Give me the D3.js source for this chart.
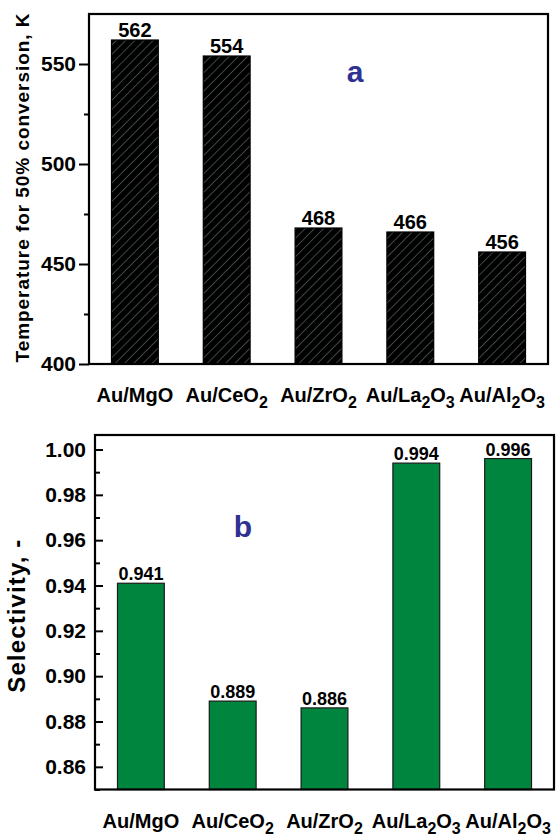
<!DOCTYPE html>
<html>
<head>
<meta charset="utf-8">
<script src="https://cdn.jsdelivr.net/npm/d3@7"></script>
<style>
  html, body { margin: 0; padding: 0; background: #fff; }
  text { font-family: "Liberation Sans", Arial, sans-serif; font-weight: bold; }
</style>
</head>
<body>
<svg id="chart" width="559" height="837"></svg>
<script>
// ---- data ----
const categories = ["Au/MgO", "Au/CeO2", "Au/ZrO2", "Au/La2O3", "Au/Al2O3"];
const temperatureValues = [562, 554, 468, 466, 456];
const selectivityValues = [0.941, 0.889, 0.886, 0.994, 0.996];
const tempTicks = [400, 450, 500, 550];
const tempMinorTicks = [425, 475, 525];
const selTicks = [0.86, 0.88, 0.90, 0.92, 0.94, 0.96, 0.98, 1.00];
const selMinorTicks = [0.85, 0.87, 0.89, 0.91, 0.93, 0.95, 0.97, 0.99];

const svg = d3.select("#chart");

// hatch pattern
const defs = svg.append("defs");
const pat = defs.append("pattern")
  .attr("id", "hatch").attr("patternUnits", "userSpaceOnUse")
  .attr("width", 6.5).attr("height", 6.5)
  .attr("patternTransform", "rotate(45)");
pat.append("rect").attr("width", 6.5).attr("height", 6.5).attr("fill", "#000");
pat.append("line").attr("x1", 0).attr("y1", 0).attr("x2", 0).attr("y2", 6.5)
  .attr("stroke", "#6f7d7b").attr("stroke-width", 1.1);

function labelParts(sel, label, mainSize, subSize, shift) {
  const parts = label.match(/[0-9]+|[^0-9]+/g);
  let lowered = false;
  parts.forEach(p => {
    const isSub = /^[0-9]+$/.test(p);
    let dy = 0;
    if (isSub && !lowered) { dy = shift; lowered = true; }
    else if (!isSub && lowered) { dy = -shift; lowered = false; }
    sel.append("tspan")
      .attr("font-size", isSub ? subSize : mainSize)
      .attr("dy", dy)
      .text(p);
  });
}

function panel(cfg) {
  const g = svg.append("g");
  const x = d3.scaleBand().domain(categories).range([cfg.left, cfg.right])
    .paddingInner(0.49).paddingOuter(0.245);
  const y = d3.scaleLinear().domain(cfg.domain).range([cfg.bottom, cfg.top]);

  // bars
  g.selectAll("rect.bar").data(cfg.values).join("rect")
    .attr("class", "bar")
    .attr("x", (d, i) => x(categories[i]))
    .attr("width", x.bandwidth())
    .attr("y", d => y(d))
    .attr("height", d => y(cfg.domain[0]) - y(d))
    .attr("fill", cfg.fill)
    .attr("stroke", cfg.stroke)
    .attr("stroke-width", 1.2);

  // value labels
  g.selectAll("text.val").data(cfg.values).join("text")
    .attr("class", "val")
    .attr("x", (d, i) => x(categories[i]) + x.bandwidth() / 2)
    .attr("y", d => y(d) - 3)
    .attr("text-anchor", "middle")
    .attr("font-size", cfg.valSize)
    .attr("fill", "#000")
    .text(d => cfg.fmt(d));

  // frame
  g.append("rect")
    .attr("x", cfg.left).attr("y", cfg.top)
    .attr("width", cfg.right - cfg.left).attr("height", cfg.bottom - cfg.top)
    .attr("fill", "none").attr("stroke", "#000").attr("stroke-width", 2.2);

  // y axis
  const ax = d3.axisLeft(y).tickValues(cfg.ticks).tickFormat(cfg.tickFmt)
    .tickSize(cfg.tickLen).tickPadding(cfg.tickPad);
  const axg = g.append("g").attr("transform", `translate(${cfg.left},0)`).call(ax);
  axg.select(".domain").remove();
  axg.selectAll(".tick line").attr("stroke", "#000").attr("stroke-width", 2);
  axg.selectAll(".tick text").attr("font-size", 21).attr("fill", "#000")
    .attr("font-family", '"Liberation Sans", Arial, sans-serif').attr("font-weight", "bold");

  const axm = d3.axisLeft(y).tickValues(cfg.minor).tickFormat("").tickSize(cfg.minorLen);
  const amg = g.append("g").attr("transform", `translate(${cfg.left},0)`).call(axm);
  amg.select(".domain").remove();
  amg.selectAll(".tick line").attr("stroke", "#000").attr("stroke-width", 2);

  // x labels
  categories.forEach(c => {
    const t = g.append("text")
      .attr("x", x(c) + x.bandwidth() / 2)
      .attr("y", cfg.xLabelY)
      .attr("text-anchor", "middle")
      .attr("font-size", 20)
      .attr("fill", "#000");
    labelParts(t, c, 20, 16, 6);
  });

  // y title
  g.append("text")
    .attr("transform", `translate(${cfg.titleX},${(cfg.top + cfg.bottom) / 2 + cfg.titleDy}) rotate(-90)`)
    .attr("text-anchor", "middle")
    .attr("font-size", cfg.titleSize)
    .attr("textLength", cfg.titleLen)
    .attr("lengthAdjust", "spacing")
    .attr("fill", "#000")
    .text(cfg.title);

  // panel letter
  g.append("text")
    .attr("x", cfg.letterX).attr("y", cfg.letterY)
    .attr("text-anchor", "middle")
    .attr("font-size", 30)
    .attr("fill", "#2e3192")
    .text(cfg.letter);
}

panel({
  left: 89, right: 548, top: 14, bottom: 364,
  domain: [400, 575],
  values: temperatureValues,
  fill: "url(#hatch)", stroke: "#000",
  valSize: 20, fmt: d3.format("d"),
  ticks: tempTicks, tickFmt: d3.format("d"), minor: tempMinorTicks,
  tickLen: 10, tickPad: 3, minorLen: 5,
  xLabelY: 402,
  title: "Temperature for 50% conversion, K", titleX: 29, titleDy: -1, titleSize: 19, titleLen: 349,
  letter: "a", letterX: 355, letterY: 82
});

panel({
  left: 95, right: 554, top: 435, bottom: 789.5,
  domain: [0.85, 1.0064],
  values: selectivityValues,
  fill: "#00853f", stroke: "#1a1a1a",
  valSize: 18, fmt: d3.format(".3f"),
  ticks: selTicks, tickFmt: d3.format(".2f"), minor: selMinorTicks,
  tickLen: -8, tickPad: 9, minorLen: -5,
  xLabelY: 828,
  title: "Selectivity, -", titleX: 25, titleDy: 4, titleSize: 24, titleLen: 153,
  letter: "b", letterX: 243, letterY: 537
});
</script>
</body>
</html>
